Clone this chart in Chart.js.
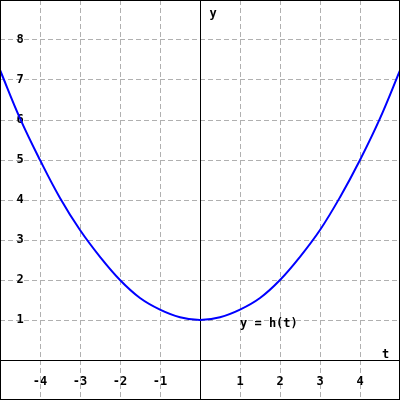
<!DOCTYPE html>
<html>
<head>
<meta charset="utf-8">
<script src="https://cdn.jsdelivr.net/npm/chart.js@4.4.1/dist/chart.umd.min.js"></script>
<style>
  html, body { margin: 0; padding: 0; background: #fff; }
  #wrap { width: 400px; height: 400px; }
</style>
</head>
<body>
<div id="wrap"><canvas id="myChart" width="400" height="400"></canvas></div>
<script>
// values
const tVals = [-5, -4.5, -4, -3.5, -3, -2.5, -2, -1.5, -1, -0.5, 0, 0.5, 1, 1.5, 2, 2.5, 3, 3.5, 4, 4.5, 5];
const hVals = [7.25, 6.04, 5.0, 4.05, 3.25, 2.58, 2.0, 1.55, 1.26, 1.07, 1.0, 1.07, 1.26, 1.55, 2.0, 2.58, 3.25, 4.07, 5.0, 6.04, 7.24];

const xTickLabels = [-4, -3, -2, -1, 1, 2, 3, 4];
const yTickLabels = [1, 2, 3, 4, 5, 6, 7, 8];

const points = tVals.map((t, i) => ({ x: t, y: hVals[i] }));

const FONT = 'bold 12px "DejaVu Sans Mono", "Liberation Mono", monospace';

// axes through zero, tick labels, captions and outer frame
const decoPlugin = {
   id: 'deco',
   beforeDatasetsDraw(chart) {
      const { ctx, scales: { x, y } } = chart;
      const x0 = Math.round(x.getPixelForValue(0)) + 0.5;
      const y0 = Math.round(y.getPixelForValue(0)) + 0.5;
      ctx.save();
      ctx.strokeStyle = '#000';
      ctx.lineWidth = 1;
      ctx.beginPath();
      ctx.moveTo(x0, 0); ctx.lineTo(x0, chart.height);
      ctx.moveTo(0, y0); ctx.lineTo(chart.width, y0);
      ctx.stroke();

      ctx.fillStyle = '#000';
      ctx.font = FONT;
      ctx.textAlign = 'center';
      ctx.textBaseline = 'middle';
      xTickLabels.forEach(v => {
         ctx.fillText(String(v), x.getPixelForValue(v), y0 + 21);
      });
      yTickLabels.forEach(v => {
         ctx.fillText(String(v), x.getPixelForValue(-4.5), y.getPixelForValue(v));
      });
      ctx.textAlign = 'left';
      ctx.fillText('y', x0 + 9, y.getPixelForValue(8.65));
      ctx.fillText('t', x.getPixelForValue(4.55), y0 - 6);
      ctx.fillText('y = h(t)', x.getPixelForValue(1), y.getPixelForValue(0.9));
      ctx.restore();
   },
   afterDraw(chart) {
      const { ctx } = chart;
      ctx.save();
      ctx.strokeStyle = '#000';
      ctx.lineWidth = 1;
      ctx.strokeRect(0.5, 0.5, chart.width - 1, chart.height - 1);
      ctx.restore();
   }
};

const ctx = document.getElementById('myChart').getContext('2d');
new Chart(ctx, {
   type: 'scatter',
   data: {
      datasets: [{
         data: points,
         showLine: true,
         borderColor: '#0000ff',
         borderWidth: 2,
         pointRadius: 0,
         tension: 0.4
      }]
   },
   options: {
      responsive: false,
      animation: false,
      layout: { padding: 0 },
      plugins: {
         legend: { display: false },
         tooltip: { enabled: false }
      },
      scales: {
         x: {
            type: 'linear',
            min: -5,
            max: 5,
            ticks: { display: false, stepSize: 1 },
            grid: { color: '#b0b0b0', drawTicks: false, lineWidth: 1 },
            border: { display: false, dash: [5, 3] }
         },
         y: {
            type: 'linear',
            min: -1,
            max: 9,
            ticks: { display: false, stepSize: 1 },
            grid: { color: '#b0b0b0', drawTicks: false, lineWidth: 1 },
            border: { display: false, dash: [5, 3] }
         }
      }
   },
   plugins: [decoPlugin]
});
</script>
</body>
</html>
